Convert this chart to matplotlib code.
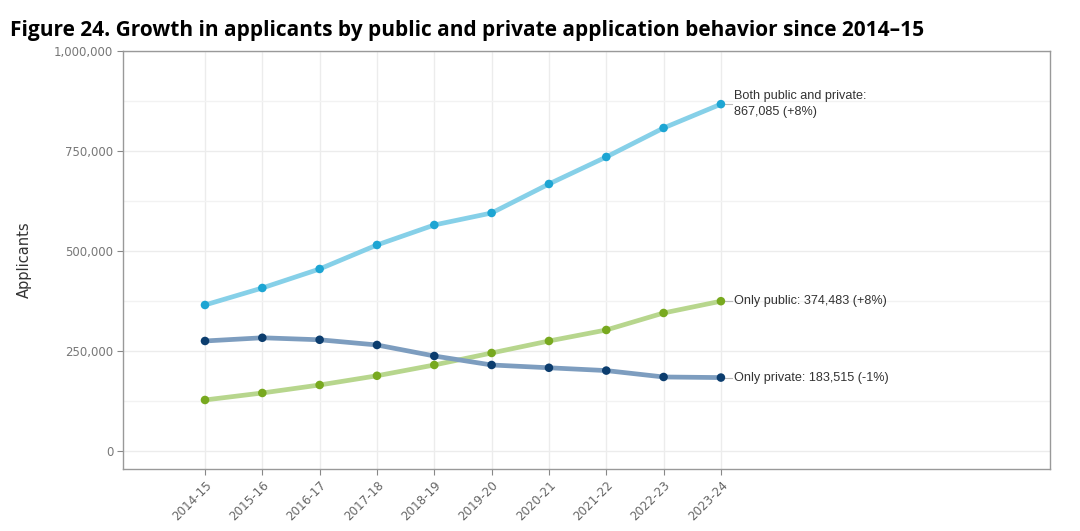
import numpy as np
import matplotlib; matplotlib.use("Agg")
import matplotlib.pyplot as plt
from matplotlib.ticker import FuncFormatter, MultipleLocator

years = ["2014-15", "2015-16", "2016-17", "2017-18", "2018-19",
         "2019-20", "2020-21", "2021-22", "2022-23", "2023-24"]
both    = [365000, 407500, 455000, 515000, 565000, 595000, 667500, 735000, 807500, 867085]
public  = [127500, 145000, 165000, 188000, 215000, 245000, 275000, 302500, 345000, 374483]
private = [275000, 283000, 278000, 265000, 237500, 215000, 208000, 201000, 185000, 183515]
labels  = ["Both public and private:\n867,085 (+8%)",
           "Only public: 374,483 (+8%)",
           "Only private: 183,515 (-1%)"]

series = [(both,    "#86d0e8", "#1da5d3"),
          (public,  "#b7d68d", "#78a91f"),
          (private, "#7d9dbf", "#0c3d6e")]

fig = plt.figure(figsize=(10.8, 5.31), dpi=100)
ax = fig.add_axes([0.1139, 0.1168, 0.8583, 0.7872])
x = np.arange(len(years))

for (vals, lc, mc), lab in zip(series, labels):
    ax.plot(x, vals, color=lc, lw=3.4, zorder=3, solid_capstyle="round")
    ax.scatter(x, vals, color=mc, s=38, zorder=4, edgecolors="none")
    ax.plot([x[-1] + 0.05, x[-1] + 0.2], [vals[-1], vals[-1]], color="#bbbbbb", lw=0.8, zorder=2)
    ax.text(x[-1] + 0.22, vals[-1], lab, fontsize=9.1, color="#333333",
            va="center", ha="left", linespacing=1.5, family="Liberation Sans")

ax.set_xlim(-1.43, 14.74)
ax.set_ylim(-45000, 1000000)
ax.set_xticks(x)
ax.set_xticklabels(years, rotation=45, ha="right", rotation_mode="anchor",
                   fontsize=8.6, color="#666666")
ax.yaxis.set_major_locator(MultipleLocator(250000))
ax.yaxis.set_minor_locator(MultipleLocator(125000))
ax.yaxis.set_major_formatter(FuncFormatter(lambda v, p: f"{int(v):,}"))
for t in ax.get_yticklabels():
    t.set_fontsize(8.5); t.set_color("#777777")
ax.tick_params(axis="both", which="major", length=4, color="#888888", pad=3)
ax.tick_params(axis="y", which="minor", length=0)
ax.grid(True, which="major", color="#ececec", lw=1.0, zorder=0)
ax.grid(True, which="minor", axis="y", color="#f2f2f2", lw=1.0, zorder=0)
for s in ax.spines.values():
    s.set_color("#999999"); s.set_linewidth(1.0)
ax.set_ylabel("Applicants", fontsize=10.5, color="#333333")
ax.yaxis.set_label_coords(-0.098, 0.5)

fig.text(0.009, 0.942, "Figure 24. Growth in applicants by public and private application behavior since 2014\u201315",
         fontsize=15, fontweight="bold", family="Open Sans", ha="left", va="center", color="black")

fig.savefig("out.png", dpi=100)
